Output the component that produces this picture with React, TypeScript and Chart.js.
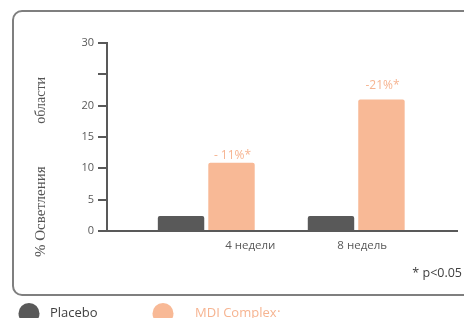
import { useEffect, useRef } from "react";
import { Chart, registerables } from "chart.js";

Chart.register(...registerables);

// ---- data ----
const categories = ["4 недели", "8 недель"];
const seriesNames = ["Placebo", "MDI Complex"];
const placeboValues = [2.4, 2.4];
const mdiValues = [10.9, 21];
const mdiLabels = ["- 11%*", "-21%*"];
const yTickValues = [0, 5, 10, 15, 20, 25, 30];
const yTickLabels = ["0", "5", "10", "15", "20", "", "30"];
const yTitleParts = ["% Осветления", "области"];
const footnote = "* p<0.05";

// ---- style ----
const GRAY = "#595959";
const ORANGE = "#F8B996";
const ORANGE_TEXT = "#F6B491";
const FONT = '"Open Sans", "DejaVu Sans", sans-serif';
const SERIF = '"Liberation Serif", "DejaVu Serif", serif';
const X_MIN = 0.338;
const X_MAX = 2.672;
const CAT_SHIFT = [44, 6];
const VALUE_GAP = [4, 10];

const overlay = {
  id: "overlay",
  afterDraw(chart: any) {
    const ctx = chart.ctx as CanvasRenderingContext2D;
    const area = chart.chartArea;
    const xs = chart.scales.x;
    ctx.save();

    // value labels above MDI bars
    const meta = chart.getDatasetMeta(1);
    ctx.font = `12px ${FONT}`;
    ctx.fillStyle = ORANGE_TEXT;
    ctx.textAlign = "center";
    ctx.textBaseline = "alphabetic";
    meta.data.forEach((bar: any, i: number) => {
      ctx.fillText(mdiLabels[i], bar.x + 1, bar.y - VALUE_GAP[i]);
    });

    // category labels
    ctx.font = `11.5px ${FONT}`;
    ctx.fillStyle = GRAY;
    categories.forEach((c, i) => {
      ctx.fillText(c, xs.getPixelForValue(i + 1) + CAT_SHIFT[i], area.bottom + 18);
    });

    // y title (rotated)
    ctx.save();
    ctx.translate(41, 0);
    ctx.rotate(-Math.PI / 2);
    ctx.fillStyle = "#555555";
    ctx.textBaseline = "middle";
    ctx.textAlign = "left";
    ctx.font = `15px ${SERIF}`;
    ctx.fillText(yTitleParts[0], -257, 0);
    ctx.textAlign = "right";
    ctx.font = `14px ${SERIF}`;
    ctx.fillText(yTitleParts[1], -77, 0);
    ctx.restore();

    // footnote
    ctx.textAlign = "right";
    ctx.font = `12.5px ${FONT}`;
    ctx.fillStyle = "#404040";
    ctx.fillText(footnote, 462, 277);

    // legend
    const legend = [
      { cx: 29, tx: 50, color: GRAY, text: "#404040" },
      { cx: 163, tx: 195, color: ORANGE, text: ORANGE_TEXT },
    ];
    legend.forEach((l, i) => {
      ctx.beginPath();
      ctx.arc(l.cx, 313.5, 10.5, 0, Math.PI * 2);
      ctx.fillStyle = l.color;
      ctx.fill();
      ctx.textAlign = "left";
      ctx.font = `13px ${FONT}`;
      ctx.fillStyle = l.text;
      ctx.fillText(seriesNames[i], l.tx, 316.5);
      if (i === 1) {
        const w = ctx.measureText(seriesNames[i]).width;
        ctx.font = `7px ${FONT}`;
        ctx.fillText("•", l.tx + w + 1, 314);
      }
    });

    ctx.restore();
  },
};

export default function App() {
  const ref = useRef<HTMLCanvasElement>(null);

  useEffect(() => {
    if (!ref.current) return;
    const chart = new Chart(ref.current, {
      type: "bar",
      data: {
        datasets: [
          {
            label: seriesNames[0],
            data: placeboValues.map((v, i) => ({ x: i + 1, y: v })),
            backgroundColor: GRAY,
            borderRadius: 2,
            borderSkipped: "bottom",
          },
          {
            label: seriesNames[1],
            data: mdiValues.map((v, i) => ({ x: i + 1, y: v })),
            backgroundColor: ORANGE,
            borderRadius: 2,
            borderSkipped: "bottom",
          },
        ],
      },
      options: {
        responsive: false,
        animation: false,
        devicePixelRatio: 1,
        categoryPercentage: 0.673,
        barPercentage: 0.92,
        layout: { padding: { top: 43, right: 7, left: 0, bottom: 0 } },
        plugins: {
          legend: { display: false },
          tooltip: { enabled: false },
          title: { display: false },
        },
        scales: {
          x: {
            type: "linear",
            offset: false,
            min: X_MIN,
            max: X_MAX,
            afterBuildTicks: (s: any) => {
              s.ticks = categories.map((_c, i) => ({ value: i + 1 }));
            },
            ticks: { display: false },
            grid: { display: false, offset: false },
            border: { display: true, color: GRAY, width: 2 },
            afterFit: (s: any) => {
              s.height = 87;
            },
          },
          y: {
            min: 0,
            max: 30,
            afterBuildTicks: (s: any) => {
              s.ticks = yTickValues.map((v) => ({ value: v }));
            },
            ticks: {
              callback: (_v: any, i: number) => yTickLabels[i],
              font: { family: FONT, size: 11 },
              color: GRAY,
              padding: 4,
            },
            grid: {
              drawOnChartArea: false,
              drawTicks: true,
              tickLength: 9,
              color: GRAY,
              lineWidth: 2,
            },
            border: { display: true, color: GRAY, width: 2 },
            afterFit: (s: any) => {
              s.width = 107;
            },
          },
        },
      },
      plugins: [overlay],
    } as any);
    return () => chart.destroy();
  }, []);

  return (
    <div
      style={{
        position: "absolute",
        left: 0,
        top: 0,
        width: 464,
        height: 318,
        overflow: "hidden",
        background: "#ffffff",
      }}
    >
      <div
        style={{
          position: "absolute",
          left: 12,
          top: 10,
          width: 470,
          height: 282,
          border: "2px solid #7f7f7f",
          borderRadius: 10,
        }}
      />
      <canvas
        ref={ref}
        width={464}
        height={318}
        style={{ position: "absolute", left: 0, top: 0, display: "block" }}
      />
    </div>
  );
}
